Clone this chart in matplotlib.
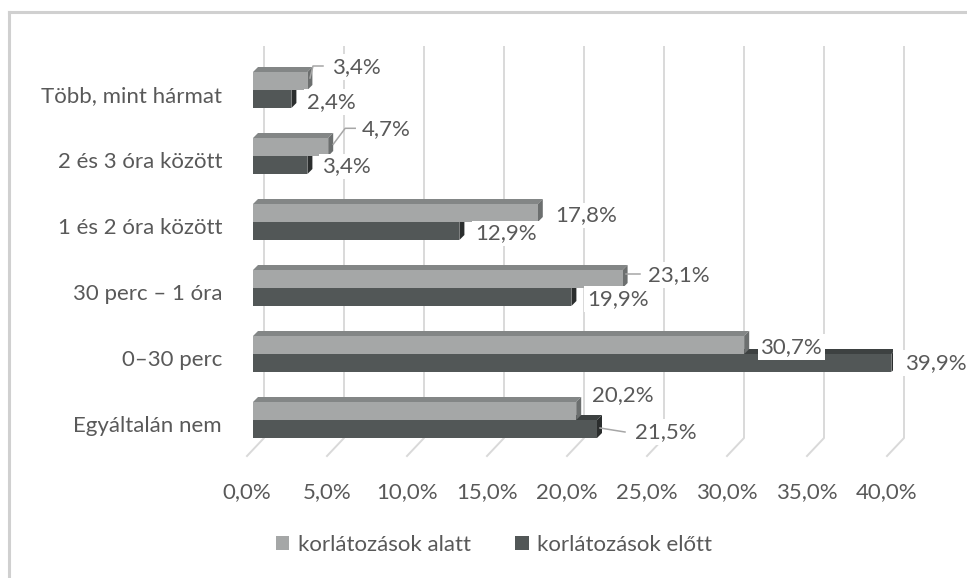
import matplotlib
matplotlib.use("Agg")
import matplotlib.pyplot as plt
from matplotlib.patches import Polygon, Patch
from matplotlib.lines import Line2D

# ---------------- data ----------------
categories = ["Egyáltalán nem", "0–30 perc", "30 perc – 1 óra",
              "1 és 2 óra között", "2 és 3 óra között", "Több, mint hármat"]
during = [20.2, 30.7, 23.1, 17.8, 4.7, 3.4]    # korlátozások alatt
before = [21.5, 39.9, 19.9, 12.9, 3.4, 2.4]    # korlátozások előtt
series_names = ["korlátozások alatt", "korlátozások előtt"]
xticks = [0, 5, 10, 15, 20, 25, 30, 35, 40]
xtick_labels = ["0,0%", "5,0%", "10,0%", "15,0%", "20,0%", "25,0%", "30,0%", "35,0%", "40,0%"]

def fmt(v):
    return f"{v:.1f}".replace(".", ",") + "%"

# ---------------- style / layout ----------------
W, H = 967, 578
PX = 16.0    # pixels per percent
PY = 66.0    # pixels per category
plt.rcParams["font.family"] = ["Lato", "DejaVu Sans"]
FS = 16
TXT = "#595959"
GRID = "#d9d9d9"
L_FRONT, L_TOP, L_SIDE = "#a5a7a7", "#838686", "#6c6f6f"
D_FRONT, D_TOP, D_SIDE = "#525757", "#3d4141", "#2b2e2e"

fig = plt.figure(figsize=(W / 100, H / 100), dpi=100)
ax = fig.add_axes([253 / W, 1 - 456 / H, 640 / W, (456 - 47) / H])
ax.set_xlim(0, 40)
ax.set_ylim(-36 / PY, 373 / PY)
ax.axis("off")

def dx(p):
    return p / PX

def dy(p):   # image pixels (down positive) -> data
    return -p / PY

# frame
fig.add_artist(Line2D([9 / W, 9 / W], [0, 1 - 12 / H], transform=fig.transFigure,
                      color="#d0d0d0", lw=2.2))
fig.add_artist(Line2D([9 / W, 1], [1 - 12 / H, 1 - 12 / H], transform=fig.transFigure,
                      color="#d0d0d0", lw=2.2))

# gridlines (back wall + floor diagonal)
for v in xticks:
    ax.plot([v + dx(11), v + dx(11), v - dx(6)],
            [373 / PY, 18 / -PY, 36 / -PY],
            color=GRID, lw=1.4, clip_on=False, zorder=0)

bh = 18 / PY
ddx, ddy = dx(5), 5 / PY

def bar3d(y0, v, front, top, side, z):
    ax.add_patch(Polygon([(0, y0 + bh), (v, y0 + bh), (v + ddx, y0 + bh + ddy),
                          (ddx, y0 + bh + ddy)], closed=True, fc=top, ec="none",
                         zorder=z))
    ax.add_patch(Polygon([(v, y0), (v, y0 + bh), (v + ddx, y0 + bh + ddy),
                          (v + ddx, y0 + ddy)], closed=True, fc=side, ec="none",
                         zorder=z))

ypos = list(range(len(categories)))
for i in ypos:
    bar3d(i - bh, before[i], D_FRONT, D_TOP, D_SIDE, 2)
ax.barh([i - bh for i in ypos], before, height=bh, align="edge",
        color=D_FRONT, zorder=2.5)
for i in ypos:
    bar3d(i, during[i], L_FRONT, L_TOP, L_SIDE, 3)
ax.barh(ypos, during, height=bh, align="edge", color=L_FRONT, zorder=3.5)

# category labels
for i, c in zip(ypos, categories):
    ax.text(dx(-31), i + dy(6), c, ha="right", va="center", fontsize=FS, color=TXT)

# x tick labels
for v, t in zip(xticks, xtick_labels):
    ax.text(v - dx(6), dy(72), t, ha="center", va="center", fontsize=FS,
            color=TXT, clip_on=False)

# data labels (offsets in image pixels from bar end / category boundary)
light_off = [(16, -25), (16, -7), (25.4, -13), (17, -6.7), (34, -26.7), (24.6, -23)]
dark_off = [(38, 12), (13.6, 9), (15.6, 11), (15.6, 11.3), (14.6, 10.3), (15.6, 12)]
box = dict(boxstyle="square,pad=0.12", fc="white", ec="none")
for i in ypos:
    ox, oy = light_off[i]
    ax.text(during[i] + dx(ox), i + dy(oy), fmt(during[i]), ha="left", va="center",
            fontsize=FS, color=TXT, bbox=box, zorder=6, clip_on=False)
    ox, oy = dark_off[i]
    ax.text(before[i] + dx(ox), i + dy(oy), fmt(before[i]), ha="left", va="center",
            fontsize=FS, color=TXT, bbox=box, zorder=6, clip_on=False)

# leader lines: (series values, index, pixel points)
leaders = [
    (during, 5, [(2.6, -12), (5.6, -24), (15.6, -24)]),
    (during, 4, [(5, -11.7), (17, -27.7), (27, -27.7)]),
    (during, 2, [(3.4, -14), (17.4, -14)]),
    (before, 0, [(3, 8), (28, 12)]),
]
for vals, i, pts in leaders:
    ax.plot([vals[i] + dx(p[0]) for p in pts], [i + dy(p[1]) for p in pts],
            color="#a6a6a6", lw=1.1, zorder=5, clip_on=False)

# legend
handles = [Patch(fc=L_FRONT, ec="none"), Patch(fc=D_FRONT, ec="none")]
fig.legend(handles, series_names, loc="center", bbox_to_anchor=(494 / W, 1 - 545 / H),
           ncol=2, frameon=False, fontsize=FS, labelcolor=TXT,
           handlelength=0.6, handleheight=0.6, handletextpad=0.4, columnspacing=2.0)

fig.savefig("out.png", dpi=100)
